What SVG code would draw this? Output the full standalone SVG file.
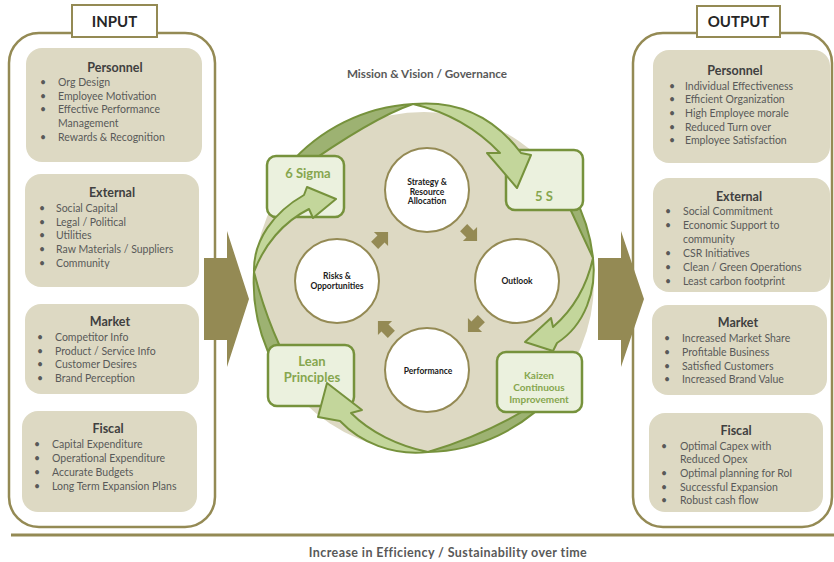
<svg xmlns="http://www.w3.org/2000/svg" width="834" height="562" viewBox="0 0 834 562">
<defs>
<style>
text{font-family:Lato,"Open Sans","Liberation Sans",sans-serif}
.frame{fill:#fff;stroke:#948A54;stroke-width:2.5}
.tag{fill:#fff;stroke:#948A54;stroke-width:2}
.tagt{font-weight:bold;font-size:15px;fill:#262626;text-anchor:middle}
.card{fill:#DDD9C3}
.ct{font-weight:bold;font-size:12.5px;fill:#404040;text-anchor:middle}
.it{font-size:10.5px;fill:#595959}
.disc{fill:#DDD9C3}
.circ{fill:#fff;stroke:#948A54;stroke-width:2}
.cl{font-weight:bold;font-size:8.5px;fill:#1a1a1a;text-anchor:middle}
.gbox{fill:#EBF1DE;stroke:#76923C;stroke-width:2.5}
.gt{font-weight:bold;font-size:13px;fill:#86A64E;text-anchor:middle}
.gs{font-weight:bold;font-size:10px;fill:#86A64E;text-anchor:middle}
.big{fill:#948A54}
.lt{fill:#C3D69B;stroke:#76923C;stroke-width:2;stroke-linejoin:round}
.dk{fill:#9DB272;stroke:#76923C;stroke-width:2;stroke-linejoin:round}
.note{font-weight:bold;font-size:11.7px;fill:#595959;text-anchor:middle}
.foot{font-weight:bold;font-size:12.5px;letter-spacing:0.4px;fill:#595959;text-anchor:middle}
.rule{stroke:#948A54;stroke-width:3}
</style>
<polygon id="sarrow" points="-9,-5 0,-5 0,-10 10,0 0,10 0,5 -9,5"/>
</defs>
<rect width="834" height="562" fill="#fff"/>

<!-- INPUT panel -->
<g id="input">
<rect class="frame" x="9" y="33" width="206" height="494" rx="30"/>
<rect class="tag" x="72" y="5" width="85" height="32"/>
<text class="tagt" x="114.5" y="27">INPUT</text>
</g>
<g id="in-personnel">
<rect class="card" x="26" y="48" width="176" height="114" rx="16"/>
<text class="ct" x="115" y="71.5">Personnel</text>
<g class="it">
<text x="40" y="85.5">•</text><text x="58" y="85.5">Org Design</text>
<text x="40" y="99.5">•</text><text x="58" y="99.5">Employee Motivation</text>
<text x="40" y="113">•</text><text x="58" y="113">Effective Performance</text>
<text x="58" y="126.5">Management</text>
<text x="40" y="140.5">•</text><text x="58" y="140.5">Rewards &amp; Recognition</text>
</g>
</g>
<g id="in-external">
<rect class="card" x="25" y="174" width="174" height="113" rx="16"/>
<text class="ct" x="112" y="197">External</text>
<g class="it">
<text x="39" y="212">•</text><text x="56" y="212">Social Capital</text>
<text x="39" y="225.5">•</text><text x="56" y="225.5">Legal / Political</text>
<text x="39" y="239">•</text><text x="56" y="239">Utilities</text>
<text x="39" y="253">•</text><text x="56" y="253">Raw Materials / Suppliers</text>
<text x="39" y="266.5">•</text><text x="56" y="266.5">Community</text>
</g>
</g>
<g id="in-market">
<rect class="card" x="25" y="304" width="174" height="90" rx="16"/>
<text class="ct" x="110" y="326">Market</text>
<g class="it">
<text x="37" y="341">•</text><text x="55" y="341">Competitor Info</text>
<text x="37" y="355">•</text><text x="55" y="355">Product / Service Info</text>
<text x="37" y="368">•</text><text x="55" y="368">Customer Desires</text>
<text x="37" y="382">•</text><text x="55" y="382">Brand Perception</text>
</g>
</g>
<g id="in-fiscal">
<rect class="card" x="22" y="411" width="175" height="101" rx="16"/>
<text class="ct" x="108" y="433">Fiscal</text>
<g class="it">
<text x="34" y="448">•</text><text x="52" y="448">Capital Expenditure</text>
<text x="34" y="462">•</text><text x="52" y="462">Operational Expenditure</text>
<text x="34" y="475.5">•</text><text x="52" y="475.5">Accurate Budgets</text>
<text x="34" y="489.5">•</text><text x="52" y="489.5">Long Term Expansion Plans</text>
</g>
</g>

<!-- OUTPUT panel -->
<g id="output">
<rect class="frame" x="633" y="33" width="199" height="494" rx="30"/>
<rect class="tag" x="697" y="6" width="83" height="31"/>
<text class="tagt" x="738.5" y="27">OUTPUT</text>
</g>
<g id="out-personnel">
<rect class="card" x="653" y="50" width="177" height="113" rx="16"/>
<text class="ct" x="735" y="75">Personnel</text>
<g class="it">
<text x="669" y="89.5">•</text><text x="685" y="89.5">Individual Effectiveness</text>
<text x="669" y="103">•</text><text x="685" y="103">Efficient Organization</text>
<text x="669" y="117">•</text><text x="685" y="117">High Employee morale</text>
<text x="669" y="130.5">•</text><text x="685" y="130.5">Reduced Turn over</text>
<text x="669" y="144">•</text><text x="685" y="144">Employee Satisfaction</text>
</g>
</g>
<g id="out-external">
<rect class="card" x="653" y="178" width="177" height="114" rx="16"/>
<text class="ct" x="739" y="201">External</text>
<g class="it">
<text x="665" y="215">•</text><text x="683" y="215">Social Commitment</text>
<text x="665" y="229">•</text><text x="683" y="229">Economic Support to</text>
<text x="683" y="243">community</text>
<text x="665" y="256.5">•</text><text x="683" y="256.5">CSR Initiatives</text>
<text x="665" y="270.5">•</text><text x="683" y="270.5">Clean / Green Operations</text>
<text x="665" y="284.5">•</text><text x="683" y="284.5">Least carbon footprint</text>
</g>
</g>
<g id="out-market">
<rect class="card" x="652" y="305" width="175" height="90" rx="16"/>
<text class="ct" x="738" y="327">Market</text>
<g class="it">
<text x="664" y="342">•</text><text x="682" y="342">Increased Market Share</text>
<text x="664" y="356">•</text><text x="682" y="356">Profitable Business</text>
<text x="664" y="369.5">•</text><text x="682" y="369.5">Satisfied Customers</text>
<text x="664" y="383">•</text><text x="682" y="383">Increased Brand Value</text>
</g>
</g>
<g id="out-fiscal">
<rect class="card" x="649" y="413" width="174" height="99" rx="16"/>
<text class="ct" x="736" y="434.5">Fiscal</text>
<g class="it">
<text x="661" y="449.5">•</text><text x="680" y="449.5">Optimal Capex with</text>
<text x="680" y="463">Reduced Opex</text>
<text x="661" y="476.5">•</text><text x="680" y="476.5">Optimal planning for RoI</text>
<text x="661" y="490.5">•</text><text x="680" y="490.5">Successful Expansion</text>
<text x="661" y="504">•</text><text x="680" y="504">Robust cash flow</text>
</g>
</g>

<!-- center -->
<g id="governance">
<text class="note" x="427" y="78">Mission &amp; Vision / Governance</text>
<circle class="disc" cx="424" cy="282" r="170"/>
</g>

<g id="cycle-back">
<path class="dk" d="M288,166 A177,177 0 0 1 413,104 Q372,118 296,172 Z"/>
<path class="dk" d="M573,194 A172,172 0 0 1 593,258 Q578,226 566,200 Z"/>
<path class="dk" d="M556,391 A172,172 0 0 1 428,452 Q492,433 548,396 Z"/>
<path class="dk" d="M292,391 A172,172 0 0 1 254,272 Q270,335 300,384 Z"/>
</g>

<g id="strategy">
<circle class="circ" cx="427" cy="190" r="42"/>
<text class="cl" x="427" y="185">Strategy &amp;</text>
<text class="cl" x="427" y="194.5">Resource</text>
<text class="cl" x="427" y="203.5">Allocation</text>
</g>
<g id="outlook">
<circle class="circ" cx="517" cy="281" r="42"/>
<text class="cl" x="517" y="284">Outlook</text>
</g>
<g id="performance">
<circle class="circ" cx="427" cy="370" r="42"/>
<text class="cl" x="428" y="374">Performance</text>
</g>
<g id="risks">
<circle class="circ" cx="337" cy="281" r="42"/>
<text class="cl" x="337" y="279">Risks &amp;</text>
<text class="cl" x="337" y="289">Opportunities</text>
</g>

<g id="six-sigma">
<rect class="gbox" x="267" y="156" width="77" height="61" rx="9"/>
<text class="gt" x="308" y="178">6 Sigma</text>
</g>
<g id="five-s">
<rect class="gbox" x="506" y="150" width="77" height="60" rx="9"/>
<text class="gt" x="544" y="201">5 S</text>
</g>
<g id="lean">
<rect class="gbox" x="268" y="345" width="86" height="61" rx="9"/>
<text class="gt" x="312" y="366">Lean</text>
<text class="gt" x="312" y="382">Principles</text>
</g>
<g id="kaizen">
<rect class="gbox" x="497" y="352" width="85" height="60" rx="9"/>
<text class="gs" x="539" y="379">Kaizen</text>
<text class="gs" x="539" y="391">Continuous</text>
<text class="gs" x="539" y="403">Improvement</text>
</g>

<g id="connectors">
<polygon class="big" points="204,258 227,258 227,231 249,299 227,367 227,340 204,340"/>
<polygon class="big" points="598,258 621,258 621,231 644,299 621,367 621,340 598,340"/>
<use href="#sarrow" class="big" transform="translate(381,239) rotate(-45)"/>
<use href="#sarrow" class="big" transform="translate(470,234) rotate(45)"/>
<use href="#sarrow" class="big" transform="translate(475,325) rotate(135)"/>
<use href="#sarrow" class="big" transform="translate(385,328) rotate(-135)"/>
<path class="lt" d="M413,104 Q480,98 521,153 L531,155 L517,188 L487,153 L500,153 Q465,116 413,104 Z"/>
<path class="lt" d="M593,258 C597,290 585,325 557,343 L553,351 L525,342 L551,318 L553,327 C575,308 587,285 593,258 Z"/>
<path class="lt" d="M428,452 C392,456 360,442 340,421 L318,417 L327,383 L362,410 L351,413 C370,432 398,446 428,452 Z"/>
<path class="lt" d="M254,272 C253,240 274,212 304,195 L307,187 L336,199 L313,218 L309,209 C283,222 264,245 254,272 Z"/>
</g>

<g id="footer">
<line class="rule" x1="11" y1="535" x2="834" y2="535"/>
<text class="foot" x="448" y="557">Increase in Efficiency / Sustainability over time</text>
</g>
</svg>
